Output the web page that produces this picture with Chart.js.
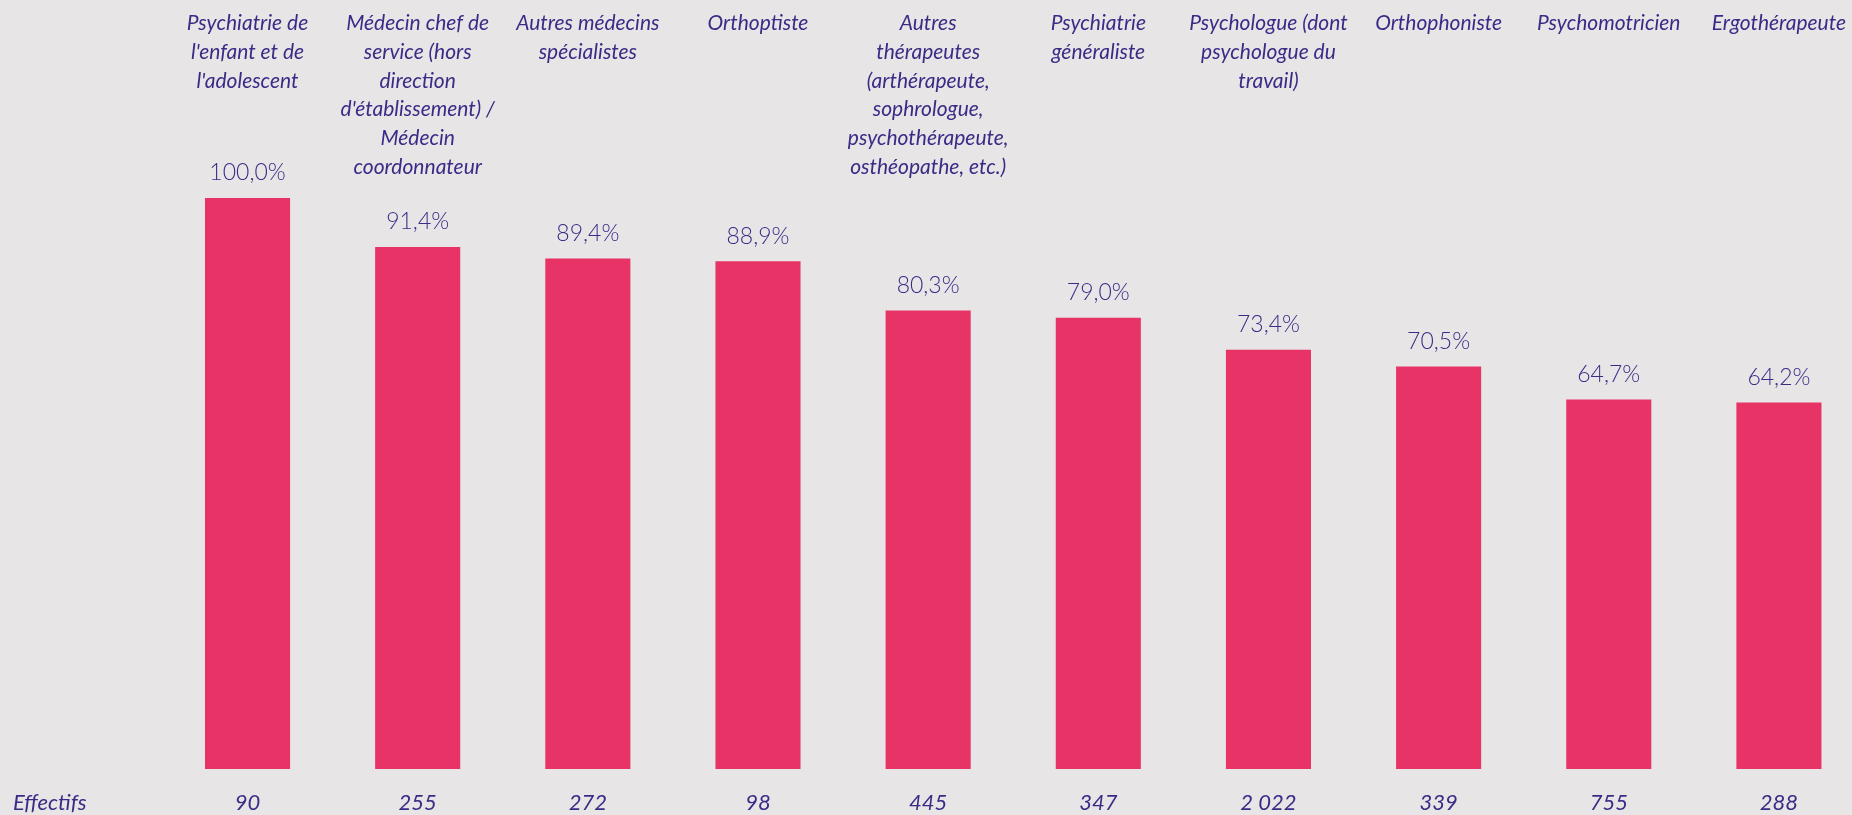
<!DOCTYPE html>
<html lang="fr">
<head>
<meta charset="utf-8">
<title>Effectifs par profession</title>
<script src="https://cdn.jsdelivr.net/npm/chart.js@4/dist/chart.umd.min.js"></script>
<style>
  html, body { margin: 0; padding: 0; overflow: hidden; background: #e7e5e6; }
  #zone { width: 1864px; height: 815px; }
</style>
</head>
<body>
<div id="zone">
  <canvas id="graficaMetiers" width="1864" height="815"></canvas>
</div>
<script>
// 🔹 DONNÉES
const metiers = [
  ["Psychiatrie de", "l'enfant et de", "l'adolescent"],
  ["Médecin chef de", "service (hors", "direction", "d'établissement) /", "Médecin", "coordonnateur"],
  ["Autres médecins", "spécialistes"],
  ["Orthoptiste"],
  ["Autres", "thérapeutes", "(arthérapeute,", "sophrologue,", "psychothérapeute,", "osthéopathe, etc.)"],
  ["Psychiatrie", "généraliste"],
  ["Psychologue (dont", "psychologue du", "travail)"],
  ["Orthophoniste"],
  ["Psychomotricien"],
  ["Ergothérapeute"]
];
const pourcentages = [100.0, 91.4, 89.4, 88.9, 80.3, 79.0, 73.4, 70.5, 64.7, 64.2];
const effectifs = [90, 255, 272, 98, 445, 347, 2022, 339, 755, 288];

const couleurTexte = "#3b2b86";
const couleurBarre = "#e83366";

// "2022" -> "2 022"
function formatEffectif(n){
  return String(n).replace(/\B(?=(\d{3})+(?!\d))/g, " ");
}

// "89.4" -> "89,4%"
function formatPct(v){
  return v.toFixed(1).replace(".", ",") + "%";
}

// l'axe compte son padding deux fois, on le retire une fois
function ajusterHauteur(scale){
  scale.height -= scale.options.ticks.padding;
}

// 🔹 ÉTIQUETTES : valeurs au-dessus des barres + "Effectifs"
const etiquettes = {
  id: "etiquettes",
  afterDatasetsDraw(chart){
    const ctx = chart.ctx;
    const barres = chart.getDatasetMeta(0).data;
    ctx.save();
    ctx.fillStyle = couleurTexte;
    ctx.font = "300 23px Lato";
    ctx.textAlign = "center";
    ctx.textBaseline = "middle";
    barres.forEach((b, i) => {
      ctx.fillText(formatPct(pourcentages[i]), b.x, b.y - 25);
    });

    const xBas = chart.scales.x;
    ctx.font = "italic 22px Lato";
    ctx.textAlign = "left";
    ctx.fillText("Effectifs", 13, xBas.top + 23 + 11);
    ctx.restore();
  }
};

// 🔹 GRAPHIQUE
const ctx = document.getElementById("graficaMetiers").getContext("2d");

const graphique = new Chart(ctx, {
  type: "bar",
  data: {
    labels: metiers,
    datasets: [{
      data: pourcentages,
      backgroundColor: couleurBarre,
      categoryPercentage: 1,
      barPercentage: 0.5
    }]
  },
  options: {
    responsive: false,
    animation: false,
    layout: {
      padding: { left: 162.45, right: 0, top: 9.25, bottom: 1 }
    },
    plugins: {
      legend: { display: false },
      tooltip: { enabled: false }
    },
    scales: {
      y: {
        display: false,
        min: 0,
        max: 100
      },
      x: {
        position: "bottom",
        grid: { display: false, drawTicks: false },
        border: { display: false },
        afterFit: ajusterHauteur,
        ticks: {
          color: couleurTexte,
          font: { family: "Lato", size: 22, style: "italic", lineHeight: 1 },
          padding: 23,
          maxRotation: 0,
          autoSkip: false,
          callback: (val, i) => formatEffectif(effectifs[i])
        }
      },
      xHaut: {
        type: "category",
        position: "top",
        grid: { display: false, drawTicks: false },
        border: { display: false },
        afterFit: ajusterHauteur,
        ticks: {
          color: couleurTexte,
          font: { family: "Lato", size: 21, style: "italic", lineHeight: "28.7px" },
          padding: 16.5,
          crossAlign: "far",
          maxRotation: 0,
          autoSkip: false
        }
      }
    }
  },
  plugins: [etiquettes]
});
</script>
</body>
</html>
